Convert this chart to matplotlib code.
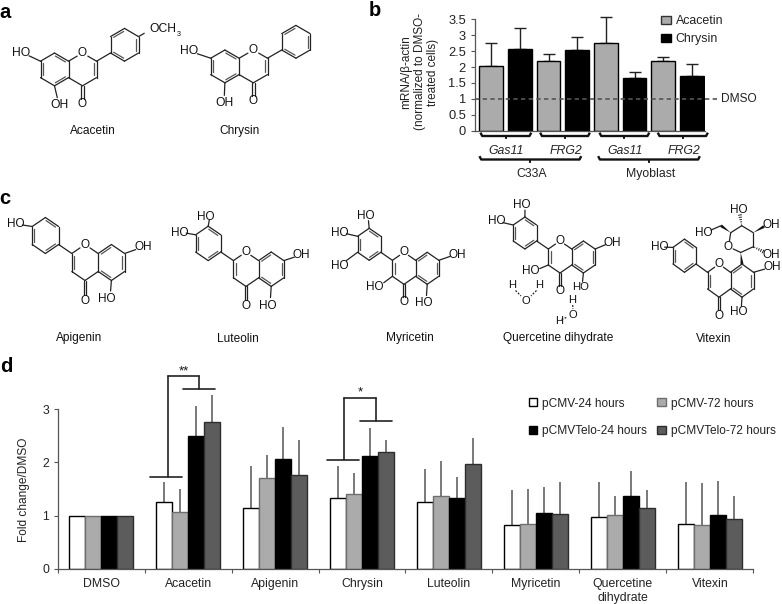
import numpy as np
import matplotlib
matplotlib.use("Agg")
import matplotlib.pyplot as plt
from matplotlib.patches import Patch, Polygon

plt.rcParams['font.family'] = ['Liberation Sans', 'DejaVu Sans']

W, H = 782, 604

# ---- panel b data
b_acacetin = [2.02, 2.18, 2.75, 2.18]
b_acacetin_top = [2.77, 2.40, 3.56, 2.30]
b_chrysin = [2.58, 2.52, 1.65, 1.71]
b_chrysin_top = [3.24, 2.94, 1.83, 2.08]
b_genes = ["Gas11", "FRG2", "Gas11", "FRG2"]
b_cells = ["C33A", "Myoblast"]
b_ticks = [0, 0.5, 1, 1.5, 2, 2.5, 3, 3.5]
b_ticklabels = ["0", "0.5", "1", "1.5", "2", "2.5", "3", "3.5"]

# ---- panel d data
d_groups = ["DMSO", "Acacetin", "Apigenin", "Chrysin", "Luteolin", "Myricetin",
            "Quercetine\ndihydrate", "Vitexin"]
d_labels = ["pCMV-24 hours", "pCMV-72 hours", "pCMVTelo-24 hours", "pCMVTelo-72 hours"]
d_p24 = [1.00, 1.26, 1.14, 1.33, 1.25, 0.82, 0.97, 0.84]
d_p72 = [1.00, 1.06, 1.70, 1.40, 1.36, 0.84, 1.01, 0.82]
d_t24 = [1.00, 2.49, 2.06, 2.13, 1.34, 1.04, 1.36, 1.01]
d_t72 = [1.00, 2.77, 1.76, 2.20, 1.97, 1.03, 1.14, 0.93]
d_p24_top = [1.00, 1.63, 1.94, 1.94, 1.87, 1.48, 1.63, 1.63]
d_p72_top = [1.00, 1.50, 2.14, 1.80, 2.02, 1.50, 1.36, 1.61]
d_t24_top = [1.00, 3.06, 2.67, 2.65, 1.73, 1.53, 1.84, 1.65]
d_t72_top = [1.00, 3.26, 2.42, 2.42, 2.46, 1.63, 1.48, 1.37]
d_colors = ["white", "#ababab", "black", "#5c5c5c"]
d_edges = ["black", "#6e6e6e", "black", "#2e2e2e"]

fig = plt.figure(figsize=(W / 100, H / 100), dpi=100)


def axes_px(x0, x1, ytop, ybot, **kw):
    return fig.add_axes([x0 / W, 1 - ybot / H, (x1 - x0) / W, (ybot - ytop) / H], **kw)


# overlay in pixel coordinates for annotations and structures
ov = fig.add_axes([0, 0, 1, 1], zorder=5)
ov.set_xlim(0, W)
ov.set_ylim(H, 0)
ov.axis("off")
ov.patch.set_alpha(0)

INK = "#222222"
MOLFS = 8.5
NAMEFS = 8.6
AXFS = 8.8


def bond(p, q, lw=0.9, c=INK, **kw):
    ov.plot([p[0], q[0]], [p[1], q[1]], color=c, lw=lw, solid_capstyle="round", **kw)


def dbl(p, q, center=None, off=2.2, lw=0.9):
    """Double bond: main stroke plus a shorter one on the side of `center`."""
    p, q = np.array(p, float), np.array(q, float)
    bond(p, q, lw=lw)
    d = q - p
    n = np.array([-d[1], d[0]]) / np.hypot(*d)
    if center is not None and np.dot(np.array(center) - p, n) < 0:
        n = -n
    a = p + 0.14 * d + n * off
    b = q - 0.14 * d + n * off
    bond(a, b, lw=lw, c="#555555")


def to(p, q, t=0.72, lw=0.9):
    """Bond from atom p towards a label at q, stopped short of the label."""
    p, q = np.array(p, float), np.array(q, float)
    bond(p, p + (q - p) * t, lw=lw)


def lab(x, y, s, fs=MOLFS, **kw):
    ov.text(x, y, s, fontsize=fs, ha="center", va="center", color="#111111", **kw)


def name(x, s, y=341.5):
    ov.text(x, y, s, fontsize=NAMEFS, ha="center", va="baseline", color="#111111")


def flavone(ox, oy, dx, dy, sgn=1):
    """Flavone skeleton on a hexagon grid around the ring oxygen at (ox, oy)."""
    grid = {
        "C8a": (-1, 1), "C2": (1, 1), "C3": (1, 3), "C4": (0, 4), "C4a": (-1, 3),
        "C5": (-2, 4), "C6": (-3, 3), "C7": (-3, 1), "C8": (-2, 0),
        "B1": (2, 0), "B2": (2, -2), "B3": (3, -3), "B4": (4, -2), "B5": (4, 0), "B6": (3, 1),
    }
    a = {k: (ox + sgn * v[0] * dx, oy + v[1] * dy) for k, v in grid.items()}
    a["O"] = (ox, oy)
    to(a["C8a"], a["O"], 0.62)
    to(a["C2"], a["O"], 0.62)
    cA = (ox - sgn * 2 * dx, oy + 2 * dy)
    cC = (ox, oy + 2 * dy)
    cB = (ox + sgn * 3 * dx, oy - dy)
    dbl(a["C2"], a["C3"], cC)
    bond(a["C3"], a["C4"])
    bond(a["C4"], a["C4a"])
    bond(a["C4a"], a["C8a"])
    dbl(a["C8a"], a["C8"], cA)
    bond(a["C8"], a["C7"])
    dbl(a["C7"], a["C6"], cA)
    bond(a["C6"], a["C5"])
    dbl(a["C5"], a["C4a"], cA)
    bond(a["C2"], a["B1"])
    bond(a["B1"], a["B2"])
    dbl(a["B2"], a["B3"], cB)
    bond(a["B3"], a["B4"])
    dbl(a["B4"], a["B5"], cB)
    bond(a["B5"], a["B6"])
    dbl(a["B6"], a["B1"], cB)
    lab(ox, oy, "O")
    # carbonyl
    ox4 = (ox, a["C4"][1] + 2.25 * dy)
    d = 1.3
    bond((ox - d, a["C4"][1]), (ox - d, ox4[1] - 5.5))
    bond((ox + d, a["C4"][1]), (ox + d, ox4[1] - 5.5))
    lab(*ox4, "O")
    return a


# ---- panel letters
for x, y, s in [(5, 13, "a"), (375, 11, "b"), (5, 199, "c"), (6, 367, "d")]:
    ov.text(x, y, s, fontsize=14.5, fontweight="bold", ha="center", va="center", color="black")

# ---- panel a
a = flavone(82.5, 53, 14.0, 8.2)
to(a["B4"], (150, 30), 0.5)
ov.text(149.5, 29.5, "OCH", fontsize=MOLFS + 0.2, ha="left", va="center", color="#111111")
ov.text(176.5, 34, "3", fontsize=5.2, ha="left", va="center", color="#111111")
to(a["C7"], (22, 52.5), 0.62); lab(21.5, 52.5, "HO", fs=MOLFS + 0.2)
to(a["C5"], (59, 105), 0.62); lab(59.5, 105, "OH", fs=MOLFS + 0.2)
name(92.5, "Acacetin", y=134)

a = flavone(253.3, 50, 14.2, 8.2)
to(a["C7"], (189, 51), 0.62); lab(189, 51, "HO", fs=MOLFS + 0.2)
to(a["C5"], (224, 103), 0.62); lab(224, 103, "OH", fs=MOLFS + 0.2)
name(240, "Chrysin", y=134)

# ---- panel c
a = flavone(85, 244.5, 13.2, 9, sgn=-1)
to(a["C7"], (143, 247), 0.6); lab(143.5, 247, "OH")
to(a["C5"], (110, 298), 0.6); lab(107, 299, "HO")
to(a["B4"], (16, 224), 0.6); lab(15.5, 224, "HO")
name(79, "Apigenin")

a = flavone(246, 252, 12.6, 8.6, sgn=-1)
to(a["C7"], (301, 255), 0.6); lab(301.5, 255, "OH")
to(a["C5"], (270, 305), 0.6); lab(268, 306, "HO")
to(a["B3"], (210, 216), 0.6); lab(205.5, 216.5, "HO")
to(a["B4"], (180, 232), 0.6); lab(180, 232.5, "HO")
name(238, "Luteolin")

a = flavone(404, 252.3, 11.6, 8.0, sgn=-1)
to(a["C7"], (457, 254), 0.62); lab(457.5, 254.5, "OH")
to(a["C5"], (426, 303), 0.6); lab(423.5, 303.5, "HO")
to(a["C3"], (378, 287), 0.6); lab(375, 287.5, "HO")
to(a["B3"], (368, 216), 0.62); lab(365.5, 216, "HO")
to(a["B4"], (339, 232), 0.6); lab(339.5, 232.5, "HO")
to(a["B5"], (339, 266), 0.6); lab(339.5, 266, "HO")
name(410, "Myricetin")

a = flavone(560, 241, 11.7, 8.0, sgn=-1)
to(a["C7"], (612, 242), 0.62); lab(612, 242.5, "OH")
to(a["C5"], (582, 287), 0.6); lab(580.5, 286.5, "HO", fs=8.2)
to(a["C3"], (534, 271), 0.6); lab(531, 271, "HO")
to(a["B3"], (525, 206), 0.62); lab(522, 205, "HO")
to(a["B4"], (496, 221), 0.6); lab(496.5, 221, "HO")
for s, x, y in [("H", 512.5, 285.5), ("H", 539, 285.5), ("O", 526, 301),
                ("H", 572.5, 300), ("O", 573, 314.5), ("H", 559, 321)]:
    lab(x, y, s, fs=8.0)
for p, q in [((515.5, 290.5), (521, 296)), ((536.5, 290.5), (531, 296)),
             ((572.7, 305), (572.8, 309)), ((561.5, 319.5), (567.5, 317))]:
    bond(p, q, ls=(0, (1.5, 1.2)))
name(558.5, "Quercetine dihydrate")

a = flavone(719, 264, 11.5, 8.3, sgn=-1)
to(a["C7"], (772, 267), 0.6); lab(772, 267.5, "OH")
to(a["C5"], (741, 312), 0.6); lab(738.5, 312, "HO")
to(a["B4"], (659, 247), 0.6); lab(659.5, 247, "HO")
# glucose ring of vitexin
c1, co, c5, c4, c3, c2 = (740.7, 252.5), (728.5, 246.7), (730.7, 232.7), (741.7, 225.7), (753.3, 232.7), (753.3, 246.7)
lab(*co, "O")
to(c1, co, 0.62)
to(c5, co, 0.62)
for p, q in [(c5, c4), (c4, c3), (c3, c2), (c2, c1)]:
    bond(p, q)


def wedge(p, q, w=1.5):
    p, q = np.array(p, float), np.array(q, float)
    d = q - p
    n = np.array([-d[1], d[0]]) / np.hypot(*d)
    ov.add_patch(Polygon([p, q + n * w, q - n * w], closed=True, color="#111111", lw=0))


def hashed(p, q, w=1.6, n=5):
    p, q = np.array(p, float), np.array(q, float)
    d = q - p
    m = np.array([-d[1], d[0]]) / np.hypot(*d)
    for t in np.linspace(0.15, 1, n):
        bond(p + d * t - m * w * t, p + d * t + m * w * t, lw=0.7)


wedge(c1, a["C8"])
wedge(c5, (721, 225.7))
to((721, 225.7), (703, 233.5), 0.55)
lab(703.5, 233.5, "HO")
hashed(c4, (740, 215)); lab(738.5, 210, "HO")
wedge(c3, (764, 226.5)); lab(771, 225, "OH")
hashed(c2, (763, 251.5)); lab(771, 254.5, "OH")
name(714, "Vitexin")

# ---- panel b chart
axb = axes_px(475, 705, 19.3, 130.7)
xb = np.arange(8)
bvals = np.ravel(np.column_stack([b_acacetin, b_chrysin]))
btops = np.ravel(np.column_stack([b_acacetin_top, b_chrysin_top]))
bcols = ["#ababab", "black"] * 4
axb.bar(xb, bvals, width=0.83, color=bcols, edgecolor="black", lw=1.0, zorder=2)
axb.errorbar(xb, bvals, yerr=[np.zeros(8), btops - bvals], fmt="none", ecolor="#222222",
             elinewidth=1.0, capsize=4.5, capthick=1.0, zorder=1, clip_on=False)
axb.set_xlim(-0.569, 7.46)
axb.set_ylim(0, 3.5)
axb.set_yticks(b_ticks, b_ticklabels)
axb.set_xticks([])
axb.tick_params(axis="y", labelsize=9.3, length=3, width=0.8, color="#555555", pad=3.5, labelcolor="#222222")
for s in ["top", "right"]:
    axb.spines[s].set_visible(False)
for s in ["left", "bottom"]:
    axb.spines[s].set_color("#555555")
    axb.spines[s].set_linewidth(0.9)
axb.plot([-0.569, 7.91], [1, 1], color="#555555", lw=1.2, ls=(0, (2.6, 2)), clip_on=False, zorder=4)
ov.text(721.5, 98.5, "DMSO", fontsize=8.6, ha="left", va="center", color="#222222")
for yy, s in [(406.5, "mRNA/β-actin"), (419.5, "(normalized to DMSO-"), (433, "treated cells)")]:
    ov.text(yy, 72, s, fontsize=8.5, rotation=90, ha="center", va="center", color="#222222")
axb.legend(handles=[Patch(facecolor="#ababab", edgecolor="#333333", label="Acacetin"),
                    Patch(facecolor="black", edgecolor="black", label="Chrysin")],
           loc="upper left", bbox_to_anchor=((660.7 - 475) / 230, 1.035), frameon=False,
           fontsize=8.9, handlelength=0.8, handleheight=0.62, handletextpad=0.42,
           labelspacing=0.48, borderaxespad=0, borderpad=0, labelcolor="#222222")


def curly(x0, x1, y, lw=1.7):
    ov.plot([x0, x0 + 1.2, x1 - 1.2, x1], [y - 2.3, y, y, y - 2.3], color="#111111", lw=lw,
            solid_joinstyle="round")
    mid = (x0 + x1) / 2
    ov.plot([mid, mid], [y, y + 2.2], color="#111111", lw=lw * 0.8)


for x0, x1, xt, s in zip([481, 540.7, 600, 658.3], [530.7, 589.3, 648.7, 707.3],
                         [506, 565.7, 625, 684.3], b_genes):
    curly(x0, x1, 136)
    ov.text(xt, 151, s, fontsize=8.8, style="italic", ha="center", va="center", color="#222222")
for x0, x1, xt, s in zip([480, 598.7], [580.7, 699.3], [531.3, 650.3], b_cells):
    curly(x0, x1, 159.5)
    ov.text(xt, 173.7, s, fontsize=8.8, ha="center", va="center", color="#222222")

# ---- panel d chart
axd = axes_px(57.7, 753.3, 409.3, 568.7)
centers = np.arange(8) + 0.5
bw = 0.183
series = [(d_p24, d_p24_top), (d_p72, d_p72_top), (d_t24, d_t24_top), (d_t72, d_t72_top)]
for i, (vals, tops) in enumerate(series):
    x = centers + (i - 1.5) * bw
    vals, tops = np.array(vals), np.array(tops)
    axd.bar(x + 0.012, vals, width=bw, color="#bbbbbb", alpha=0.55, lw=0, zorder=1.5 + i * 0.01)
    axd.bar(x, vals, width=bw, color=d_colors[i], edgecolor=d_edges[i], lw=1.0, zorder=2 + i * 0.01,
            label=d_labels[i])
    axd.errorbar(x, vals, yerr=[np.zeros(8), tops - vals], fmt="none", ecolor="#555555",
                 elinewidth=1.1, capsize=0, zorder=1.2, clip_on=False)
axd.set_xlim(0, 8)
axd.set_ylim(0, 3)
axd.set_yticks([0, 1, 2, 3])
axd.set_xticks(np.arange(9))
axd.set_xticklabels([])
axd.set_xticks(centers, minor=True)
axd.set_xticklabels(d_groups, minor=True, linespacing=1.2)
axd.tick_params(axis="x", which="major", length=3, width=0.8, color="#555555")
axd.tick_params(axis="x", which="minor", length=0, pad=6.5, labelsize=AXFS, labelcolor="#222222")
axd.tick_params(axis="y", length=3, width=0.8, color="#555555", labelsize=8.8, pad=3, labelcolor="#222222")
for s in ["top", "right"]:
    axd.spines[s].set_visible(False)
for s in ["left", "bottom"]:
    axd.spines[s].set_color("#555555")
    axd.spines[s].set_linewidth(0.9)
ov.text(24, 490, "Fold change/DMSO", fontsize=8.6, rotation=90, ha="center", va="center", color="#222222")

order = [0, 2, 1, 3]
leg = axd.legend([Patch(facecolor=d_colors[i], edgecolor=d_edges[i]) for i in order],
                 [d_labels[i] for i in order], ncols=2, loc="upper left",
                 bbox_to_anchor=((529.3 - 57.7) / 695.6, (568.7 - 397.5) / 159.4), frameon=False,
                 fontsize=8.6, handlelength=0.68, handleheight=0.68, handletextpad=0.42,
                 labelspacing=1.33, columnspacing=0.85, borderaxespad=0, borderpad=0,
                 labelcolor="#222222")
leg.set_zorder(6)


def sig(xl0, xl1, yl, xr0, xr1, yr, xt0, xt1, yt, star, ys):
    c = "#222222"
    for p, q in [((xt0, yt), (xt1, yt)), ((xt0, yt), (xt0, yl)), ((xt1, yt), (xt1, yr)),
                 ((xl0, yl), (xl1, yl)), ((xr0, yr), (xr1, yr))]:
        bond(p, q, lw=1.2, c=c)
    ov.text((xt0 + xt1) / 2, ys, star, fontsize=9.5, ha="center", va="center", color="#111111")


sig(150, 182.3, 477.3, 183.3, 215.3, 389, 167.7, 199.3, 376, "**", 371)
sig(326.7, 358.7, 460, 360, 391.7, 421.3, 344.3, 376, 398, "*", 392.5)

fig.savefig("out.png", dpi=100)
